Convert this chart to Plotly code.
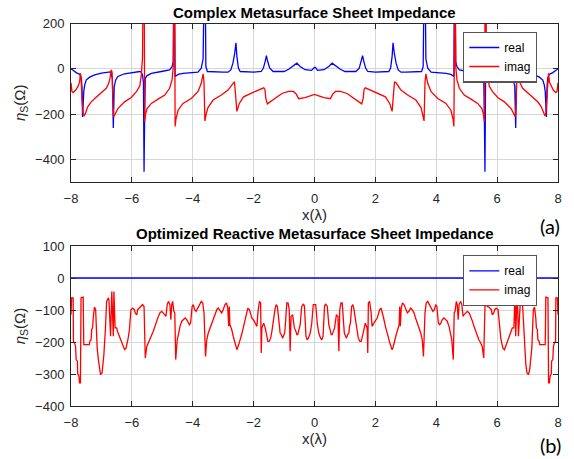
import plotly.graph_objects as go

# ---------------- (a) complex sheet impedance ----------------
real_x = [
    -8.00, -7.93, -7.82, -7.74, -7.70, -7.66, -7.64, -7.62, -7.60, -7.58,
    -7.55, -7.50, -7.39, -7.22, -7.00, -6.78, -6.71, -6.67, -6.64, -6.61,
    -6.59, -6.58, -6.53, -6.46, -6.24, -5.91, -5.74, -5.69, -5.65, -5.62,
    -5.60, -5.58, -5.56, -5.50, -5.36, -5.03, -4.76, -4.68, -4.64, -4.62,
    -4.60, -4.58, -4.48, -4.32, -3.83, -3.72, -3.66, -3.62, -3.60, -3.57,
    -3.52, -3.00, -2.84, -2.75, -2.68, -2.62, -2.58, -2.55, -2.50, -2.44,
    -2.00, -1.75, -1.68, -1.62, -1.58, -1.54, -1.47, -1.36, -1.00, -0.85,
    -0.69, -0.58, -0.47, -0.31, -0.10, -0.03, 0.00,
    0.03, 0.10, 0.31, 0.47, 0.58, 0.69,
    0.85, 1.00, 1.36, 1.47, 1.54, 1.58, 1.62, 1.68, 1.75, 2.00,
    2.44, 2.50, 2.55, 2.58, 2.62, 2.68, 2.75, 2.84, 3.00, 3.52,
    3.57, 3.60, 3.62, 3.66, 3.72, 3.83, 4.32, 4.48, 4.58, 4.60,
    4.62, 4.64, 4.68, 4.76, 5.03, 5.36, 5.50, 5.56, 5.58, 5.60,
    5.62, 5.65, 5.69, 5.74, 5.91, 6.24, 6.46, 6.53, 6.58, 6.59,
    6.61, 6.64, 6.67, 6.71, 6.78, 7.00, 7.22, 7.39, 7.50, 7.55,
    7.58, 7.60, 7.62, 7.64, 7.66, 7.70, 7.74, 7.82, 7.93, 8.00,
]
real_y = [
    0, -8, -18, -22, -28, -42, -80, -213, -150, -100,
    -72, -50, -37, -27, -19, -15, -14, -25, -45, -262,
    -150, -79, -49, -34, -22, -16, -12, -15, -28, -60,
    -455, -200, -42, -30, -20, -12, -5, 10, 30, 600,
    600, -34, -25, -20, -15, 3, 43, 600, 600, 10,
    -12, -15, -15, -5, 25, 70, 115, 55, 3, -12,
    -15, -12, 3, 33, 58, 33, 3, -12, -12, -2,
    13, 25, 10, -4, -7, 6, 6,
    6, -7, -4, 10, 25, 13,
    -2, -12, -12, 3, 33, 58, 33, 3, -12, -15,
    -12, 3, 55, 115, 70, 25, -5, -15, -15, -12,
    10, 600, 600, 43, 3, -15, -20, -25, -34, 600,
    600, 30, 10, -5, -12, -20, -30, -42, -200, -455,
    -60, -28, -15, -12, -16, -22, -34, -49, -79, -150,
    -262, -45, -25, -14, -15, -19, -27, -37, -50, -72,
    -100, -150, -213, -80, -42, -28, -22, -18, -8, 0,
]

imag_x = [
    -8.00, -7.97, -7.93, -7.85, -7.78, -7.72, -7.69, -7.67, -7.64, -7.60,
    -7.57, -7.53, -7.45, -7.35, -7.22, -7.00, -6.84, -6.76, -6.72, -6.68,
    -6.65, -6.63, -6.60, -6.57, -6.46, -6.24, -6.02, -5.85, -5.74, -5.69,
    -5.65, -5.62, -5.60, -5.58, -5.55, -5.50, -5.36, -5.14, -4.92, -4.76,
    -4.68, -4.64, -4.62, -4.60, -4.58, -4.55, -4.48, -4.32, -4.05, -3.83,
    -3.72, -3.66, -3.63, -3.60, -3.56, -3.50, -3.33, -3.06, -2.84, -2.75,
    -2.68, -2.63, -2.59, -2.55, -2.47, -2.33, -2.05, -1.84, -1.67, -1.63,
    -1.60, -1.55, -1.45, -1.29, -1.07, -0.85, -0.69, -0.60, -0.52, -0.31,
    -0.09, 0.00,
    0.09,
    0.31, 0.52, 0.60, 0.69, 0.85, 1.07, 1.29, 1.45, 1.55, 1.60,
    1.63, 1.67, 1.84, 2.05, 2.33, 2.47, 2.55, 2.59, 2.63, 2.68,
    2.75, 2.84, 3.06, 3.33, 3.50, 3.56, 3.60, 3.63, 3.66, 3.72,
    3.83, 4.05, 4.32, 4.48, 4.55, 4.58, 4.60, 4.62, 4.64, 4.68,
    4.76, 4.92, 5.14, 5.36, 5.50, 5.55, 5.58, 5.60, 5.62, 5.65,
    5.69, 5.74, 5.85, 6.02, 6.24, 6.46, 6.57, 6.60, 6.63, 6.65,
    6.68, 6.72, 6.76, 6.84, 7.00, 7.22, 7.35, 7.45, 7.53, 7.57,
    7.60, 7.64, 7.67, 7.69, 7.72, 7.78, 7.85, 7.93, 7.97, 8.00,
]
imag_y = [
    -62, -100, -105, -95, -80, -60, -20, -35, -130, -200,
    -207, -198, -168, -148, -131, -106, -86, -64, -42, -5,
    -15, -120, -213, -205, -176, -146, -127, -101, -76, -27,
    50, 600, 600, -235, -200, -176, -153, -134, -116, -86,
    -49, 10, 600, 600, -255, -220, -183, -153, -131, -101,
    -64, -22, -60, -230, -200, -171, -138, -116, -94, -78,
    -62, -57, -120, -188, -153, -124, -106, -94, -84, -90,
    -131, -155, -145, -131, -109, -100, -100, -112, -132, -127,
    -117, -113,
    -117,
    -127, -132, -112, -100, -100, -109, -131, -145, -155, -131,
    -90, -84, -94, -106, -124, -153, -188, -120, -57, -62,
    -78, -94, -116, -138, -171, -200, -230, -60, -22, -64,
    -101, -131, -153, -183, -220, -255, 600, 600, 10, -49,
    -86, -116, -134, -153, -176, -200, -235, 600, 600, 50,
    -27, -76, -101, -127, -146, -176, -205, -213, -120, -15,
    -5, -42, -64, -86, -106, -131, -148, -168, -198, -207,
    -200, -130, -35, -20, -60, -80, -95, -105, -100, -62,
]

# ---------------- (b) optimized reactive sheet impedance ----------------
opt_real_x = [-8.0, 8.0]
opt_real_y = [0, 0]

opt_imag_x = [
    -8.00, -7.98, -7.93, -7.92, -7.88, -7.85, -7.83, -7.79, -7.78, -7.74,
    -7.72, -7.69, -7.67, -7.60, -7.58, -7.40, -7.38, -7.34, -7.32, -7.29,
    -7.27, -7.23, -7.19, -7.14, -7.10, -7.07, -7.03, -6.98, -6.94, -6.92,
    -6.87, -6.85, -6.83, -6.77, -6.75, -6.70, -6.66, -6.61, -6.59, -6.55,
    -6.50, -6.47, -6.45, -6.39, -6.36, -6.32, -6.28, -6.24, -6.19, -6.15,
    -6.12, -6.08, -6.06, -6.03, -5.97, -5.92, -5.89, -5.84, -5.81, -5.73,
    -5.68, -5.65, -5.60, -5.56, -5.51, -5.46, -5.40, -5.35, -5.30, -5.24,
    -5.19, -5.13, -5.08, -5.02, -4.97, -4.91, -4.88, -4.84, -4.80, -4.75,
    -4.72, -4.69, -4.66, -4.62, -4.59, -4.56, -4.51, -4.46, -4.42, -4.36,
    -4.31, -4.25, -4.20, -4.15, -4.11, -4.07, -4.02, -3.98, -3.94, -3.89,
    -3.82, -3.72, -3.67, -3.63, -3.58, -3.54, -3.49, -3.43, -3.38, -3.32,
    -3.27, -3.21, -3.16, -3.10, -3.05, -3.00, -2.94, -2.89, -2.85, -2.82,
    -2.80, -2.78, -2.72, -2.67, -2.59, -2.55, -2.49, -2.44, -2.38, -2.33,
    -2.27, -2.22, -2.19, -2.14, -2.11, -2.06, -2.00, -1.95, -1.89, -1.86,
    -1.81, -1.77, -1.75, -1.73, -1.67, -1.62, -1.56, -1.53, -1.49, -1.44,
    -1.40, -1.37, -1.33, -1.29, -1.26, -1.22, -1.18, -1.15, -1.13, -1.09,
    -1.05, -1.02, -0.98, -0.96, -0.94, -0.91, -0.87, -0.83, -0.80, -0.77,
    -0.72, -0.69, -0.66, -0.61, -0.58, -0.55, -0.50, -0.47, -0.42, -0.36,
    -0.33, -0.28, -0.24, -0.20, -0.14, -0.09, -0.04, 0.00,
    0.04, 0.09, 0.14, 0.20, 0.24, 0.28, 0.33,
    0.36, 0.42, 0.47, 0.50, 0.55, 0.58, 0.61, 0.66, 0.69, 0.72,
    0.77, 0.80, 0.83, 0.87, 0.91, 0.94, 0.96, 0.98, 1.02, 1.05,
    1.09, 1.13, 1.15, 1.18, 1.22, 1.26, 1.29, 1.33, 1.37, 1.40,
    1.44, 1.49, 1.53, 1.56, 1.62, 1.67, 1.73, 1.75, 1.77, 1.81,
    1.86, 1.89, 1.95, 2.00, 2.06, 2.11, 2.14, 2.19, 2.22, 2.27,
    2.33, 2.38, 2.44, 2.49, 2.55, 2.59, 2.67, 2.72, 2.78, 2.80,
    2.82, 2.85, 2.89, 2.94, 3.00, 3.05, 3.10, 3.16, 3.21, 3.27,
    3.32, 3.38, 3.43, 3.49, 3.54, 3.58, 3.63, 3.67, 3.72, 3.82,
    3.89, 3.94, 3.98, 4.02, 4.07, 4.11, 4.15, 4.20, 4.25, 4.31,
    4.36, 4.42, 4.46, 4.51, 4.56, 4.59, 4.62, 4.66, 4.69, 4.72,
    4.75, 4.80, 4.84, 4.88, 4.91, 4.97, 5.02, 5.08, 5.13, 5.19,
    5.24, 5.30, 5.35, 5.40, 5.46, 5.51, 5.56, 5.60, 5.65, 5.68,
    5.73, 5.81, 5.84, 5.89, 5.92, 5.97, 6.03, 6.06, 6.08, 6.12,
    6.15, 6.19, 6.24, 6.28, 6.32, 6.36, 6.39, 6.45, 6.47, 6.50,
    6.55, 6.59, 6.61, 6.66, 6.70, 6.75, 6.77, 6.83, 6.85, 6.87,
    6.92, 6.94, 6.98, 7.03, 7.07, 7.10, 7.14, 7.19, 7.23, 7.27,
    7.29, 7.32, 7.34, 7.38, 7.40, 7.58, 7.60, 7.67, 7.69, 7.72,
    7.74, 7.78, 7.79, 7.83, 7.85, 7.88, 7.92, 7.93, 7.98, 8.00,
]
opt_imag_y = [
    -115, -62, -62, -198, -203, -214, -255, -260, -299, -307,
    -328, -328, -62, -60, -208, -208, -198, -193, -161, -156,
    -125, -91, -99, -219, -255, -286, -302, -297, -266, -240,
    -161, -109, -73, -62, -73, -182, -42, -182, -42, -156,
    -156, -167, -172, -182, -193, -203, -214, -224, -219, -203,
    -187, -161, -130, -99, -94, -99, -109, -115, -99, -91,
    -89, -83, -89, -250, -214, -203, -193, -182, -167, -151,
    -135, -120, -109, -104, -109, -115, -120, -83, -73, -83,
    -130, -83, -73, -104, -109, -255, -193, -172, -151, -135,
    -130, -125, -130, -141, -146, -141, -89, -83, -99, -104,
    -90, -73, -78, -109, -245, -193, -172, -156, -141, -125,
    -109, -99, -94, -104, -109, -99, -83, -78, -94, -151,
    -89, -146, -161, -182, -214, -224, -208, -193, -172, -151,
    -125, -104, -94, -99, -109, -125, -132, -141, -151, -109,
    -73, -78, -234, -156, -141, -156, -188, -198, -198, -188,
    -167, -141, -120, -94, -83, -89, -141, -151, -172, -177,
    -188, -182, -172, -151, -115, -78, -78, -99, -229, -120,
    -115, -135, -156, -167, -177, -177, -161, -146, -89, -81,
    -89, -182, -193, -188, -172, -141, -83, -83,
    -83, -141, -172, -188, -193, -182, -89,
    -81, -89, -146, -161, -177, -177, -167, -156, -135, -115,
    -120, -229, -99, -78, -78, -115, -151, -172, -182, -188,
    -177, -172, -151, -141, -89, -83, -94, -120, -141, -167,
    -188, -198, -198, -188, -156, -141, -156, -234, -78, -73,
    -109, -151, -141, -132, -125, -109, -99, -94, -104, -125,
    -151, -172, -193, -208, -224, -214, -182, -161, -146, -89,
    -151, -94, -78, -83, -99, -109, -104, -94, -99, -109,
    -125, -141, -156, -172, -193, -245, -109, -78, -73, -90,
    -104, -99, -83, -89, -141, -146, -141, -130, -125, -130,
    -135, -151, -172, -193, -255, -109, -104, -73, -83, -130,
    -83, -73, -83, -120, -115, -109, -104, -109, -120, -135,
    -151, -167, -182, -193, -203, -214, -250, -89, -83, -89,
    -91, -99, -115, -109, -99, -94, -99, -130, -161, -187,
    -203, -219, -224, -214, -203, -193, -182, -172, -167, -156,
    -156, -42, -182, -42, -182, -73, -62, -73, -109, -161,
    -240, -266, -297, -302, -286, -255, -219, -99, -91, -125,
    -156, -161, -193, -198, -208, -208, -60, -62, -328, -328,
    -307, -299, -260, -255, -214, -203, -198, -62, -62, -115,
]

x_ticks = [-8, -6, -4, -2, 0, 2, 4, 6, 8]
top_y_ticks = [-400, -200, 0, 200]
bot_y_ticks = [-400, -300, -200, -100, 0, 100]

BLUE = "#0000ff"
RED = "#ff0000"
FONT = "Liberation Sans"
W, H = 574, 459
LW = 1.3

fig = go.Figure()
fig.add_trace(go.Scatter(x=real_x, y=real_y, mode="lines", name="real",
                         line=dict(color=BLUE, width=LW), xaxis="x", yaxis="y",
                         legend="legend"))
fig.add_trace(go.Scatter(x=imag_x, y=imag_y, mode="lines", name="imag",
                         line=dict(color=RED, width=LW), xaxis="x", yaxis="y",
                         legend="legend"))
fig.add_trace(go.Scatter(x=opt_real_x, y=opt_real_y, mode="lines", name="real",
                         line=dict(color=BLUE, width=LW), xaxis="x2", yaxis="y2",
                         legend="legend2"))
fig.add_trace(go.Scatter(x=opt_imag_x, y=opt_imag_y, mode="lines", name="imag",
                         line=dict(color=RED, width=LW), xaxis="x2", yaxis="y2",
                         legend="legend2"))

axis_style = dict(showline=True, linecolor="#262626", linewidth=1, mirror="ticks",
                  ticks="inside", ticklen=5, tickcolor="#262626", showgrid=True,
                  gridcolor="#d6d6d6", gridwidth=1, zeroline=False,
                  tickfont=dict(family=FONT, size=13, color="#262626"))

XLAB = "x(λ)"
YLAB = "<i>η</i><sub>S</sub>(Ω)"
xtitle = dict(text=XLAB, font=dict(family=FONT, size=15, color="#262626"), standoff=4)
ytitle = dict(text=YLAB, font=dict(family=FONT, size=15, color="#262626"), standoff=5)

xdom = [71 / W, 558 / W]
fig.update_layout(
    width=W, height=H, margin=dict(l=0, r=0, t=0, b=0),
    paper_bgcolor="white", plot_bgcolor="white",
    xaxis=dict(domain=xdom, range=[-8, 8], tickvals=x_ticks, anchor="y",
               ticklabelstandoff=4, title=xtitle, automargin=False, **axis_style),
    yaxis=dict(domain=[1 - 182 / H, 1 - 23.5 / H], range=[-500, 200],
               tickvals=top_y_ticks, anchor="x", ticklabelstandoff=3,
               title=ytitle, automargin=False, **axis_style),
    xaxis2=dict(domain=xdom, range=[-8, 8], tickvals=x_ticks, anchor="y2",
                ticklabelstandoff=4, title=xtitle, automargin=False, **axis_style),
    yaxis2=dict(domain=[1 - 406 / H, 1 - 246 / H], range=[-400, 100],
                tickvals=bot_y_ticks, anchor="x2", ticklabelstandoff=3,
                title=ytitle, automargin=False, **axis_style),
    legend=dict(x=463 / W, y=1 - 31.7 / H, xanchor="left", yanchor="top",
                bgcolor="white", bordercolor="#555555", borderwidth=1.3,
                font=dict(family=FONT, size=12, color="#000000"),
                tracegroupgap=0),
    legend2=dict(x=463 / W, y=1 - 255 / H, xanchor="left", yanchor="top",
                 bgcolor="white", bordercolor="#555555", borderwidth=1.3,
                 font=dict(family=FONT, size=12, color="#000000"),
                 tracegroupgap=0),
    showlegend=True,
)

cx = (71 + 558) / 2 / W
ann = [
    dict(text="<b>Complex Metasurface Sheet Impedance</b>", x=cx, y=1 - 12.5 / H,
         font=dict(family=FONT, size=15, color="#000000")),
    dict(text="<b>Optimized Reactive Metasurface Sheet Impedance</b>", x=cx,
         y=1 - 233.5 / H, font=dict(family=FONT, size=15, color="#000000")),
    dict(text="(a)", x=550 / W, y=1 - 225.5 / H,
         font=dict(family="Lato", size=20, color="#000000")),
    dict(text="(b)", x=550 / W, y=1 - 445 / H,
         font=dict(family="Lato", size=20, color="#000000")),
]
for a in ann:
    a.update(xref="paper", yref="paper", showarrow=False, xanchor="center",
             yanchor="middle")
fig.update_layout(annotations=ann)

fig.write_html("out.html")
